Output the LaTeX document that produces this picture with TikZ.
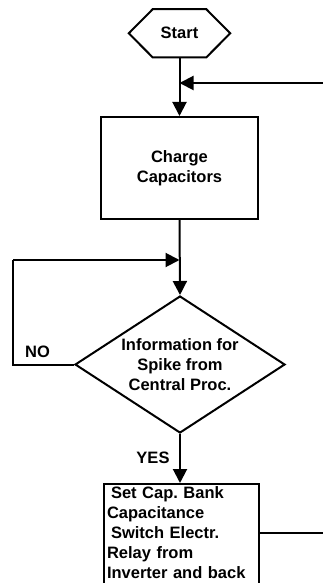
\documentclass[tikz,border=0pt]{standalone}
\usepackage{fontspec}
\setmainfont{Liberation Sans}
\usetikzlibrary{arrows.meta,shapes.geometric}
\begin{document}
\begin{tikzpicture}[x=1pt,y=-1pt,
  every node/.style={font=\fontsize{16.5}{20}\selectfont\bfseries},
  flow/.style={line width=2pt},
  arr/.style={flow,-{Triangle[length=14pt,width=14pt]}},
  procbox/.style={draw,line width=2pt,align=center,minimum width=157pt,minimum height=102pt,inner sep=0pt},
  decbox/.style={draw,line width=2pt,diamond,align=center,minimum width=210pt,minimum height=137pt,shape aspect=1.53,inner sep=0pt},
  lbl/.style={inner sep=0pt}]
\useasboundingbox (0,0) rectangle (323,583);
\clip (0,0) rectangle (323,583);
% Start hexagon
\node[minimum width=101pt,minimum height=48pt,inner sep=0pt] (start) at (179.5,33.3) {Start};
\draw[flow,line join=miter] (start.west) -- ([xshift=24pt]start.north west) -- ([xshift=-24pt]start.north east)
  -- (start.east) -- ([xshift=-24pt]start.south east) -- ([xshift=24pt]start.south west) -- cycle;
% Charge capacitors
\node[procbox] (charge) at (179.5,168) {Charge\\Capacitors};
% Decision
\node[decbox] (dec) at (180,364.5) {Information for\\Spike from\\Central Proc.};
% Set box
\node[draw,line width=2pt,anchor=north west,text width=149pt,align=left,inner xsep=3pt,inner ysep=3pt] (setbox) at (103,483)
  {\hspace*{4pt}Set Cap.\ Bank\\Capacitance\\\hspace*{4pt}Switch Electr.\\Relay from\\Inverter and back\\\rule{0pt}{10pt}};
% coordinates
\coordinate (rin) at (323,83);
\coordinate (join1) at (start.south |- rin);
\coordinate (loopTop) at (13,260);
\coordinate (loopBot) at (13,364.5);
\coordinate (join2) at (charge.south |- loopTop);
\coordinate (rout) at (323,533);
% connectors
\draw[arr] (start.south) -- (charge.north);
\draw[arr] (rin) -- (join1);
\draw[arr] (charge.south) -- (dec.north);
\draw[flow] (dec.west) -- (loopBot) -- (loopTop);
\draw[arr] (loopTop) -- (join2);
\draw[arr] (dec.south) -- (setbox.north -| dec.south);
\draw[flow] (rout) -- (rout -| setbox.east);
% labels
\node[lbl] (no) at (37.5,352) {NO};
\node[lbl] (yes) at (153,458) {YES};
\end{tikzpicture}
\end{document}
